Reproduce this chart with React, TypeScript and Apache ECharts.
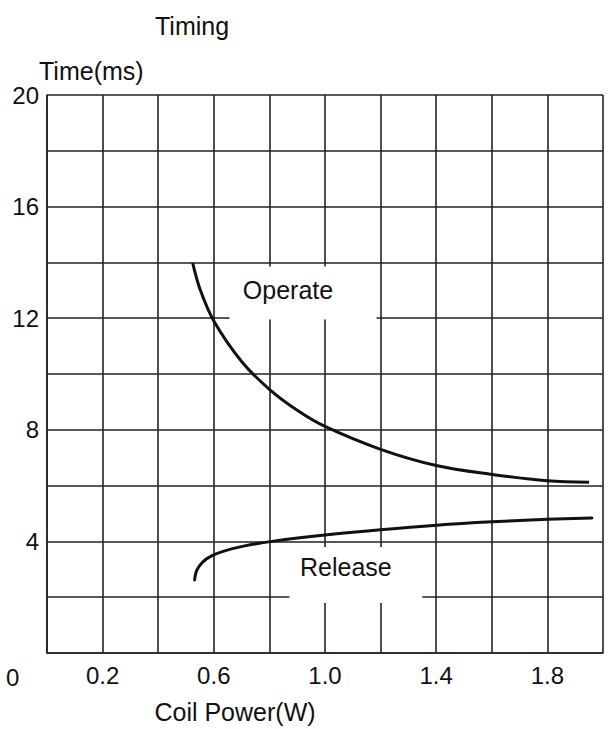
import React, { useEffect, useRef } from "react";
import * as echarts from "echarts";

const FONT = "'Liberation Sans', Arial, Helvetica, sans-serif";

const xTickLabels = ["0.2", "0.6", "1.0", "1.4", "1.8"];
const yTickLabels = ["4", "8", "12", "16", "20"];

const operateX = [0.524, 0.55, 0.6, 0.7, 0.8, 0.9, 1.0, 1.2, 1.4, 1.6, 1.8, 1.95];
const operateY = [13.98, 13.05, 11.9, 10.45, 9.45, 8.7, 8.12, 7.3, 6.72, 6.4, 6.17, 6.12];

const releaseX = [0.531, 0.539, 0.56, 0.592, 0.639, 0.711, 0.815, 1.0, 1.2, 1.4, 1.6, 1.8, 1.96];
const releaseY = [2.62, 2.97, 3.26, 3.48, 3.66, 3.84, 4.01, 4.23, 4.42, 4.58, 4.7, 4.79, 4.84];

const curveNames = ["Operate", "Release"];
const labelPos = [
  [0.921, 12.9],
  [1.111, 2.8],
];

export default function App() {
  const ref = useRef<HTMLDivElement>(null);
  useEffect(() => {
    if (!ref.current) return;
    const chart = echarts.init(ref.current, undefined, { renderer: "svg" });
    const gridLine = { show: true, lineStyle: { color: "#222", width: 1.6 } };
    chart.setOption({
      animation: false,
      backgroundColor: "#fff",
      textStyle: { fontFamily: FONT },
      title: {
        text: "Timing",
        left: 150,
        top: 8,
        textStyle: { fontFamily: FONT, fontSize: 25, fontWeight: "normal", color: "#111" },
      },
      grid: { left: 47, right: 5, top: 95, bottom: 76, containLabel: false },
      xAxis: {
        type: "value",
        min: 0,
        max: 2.0,
        interval: 0.2,
        name: "Coil Power(W)",
        nameLocation: "middle",
        nameGap: 46,
        nameTextStyle: { fontFamily: FONT, fontSize: 25, color: "#111", padding: [0, 180, 0, 0] },
        axisLine: { show: true, lineStyle: { color: "#222", width: 1.6 } },
        axisTick: { show: false },
        splitLine: gridLine,
        axisLabel: {
          fontFamily: FONT,
          fontSize: 24,
          color: "#111",
          margin: 10,
          formatter: (v: number) => {
            const s = v.toFixed(1);
            return xTickLabels.includes(s) ? s : "";
          },
        },
      },
      yAxis: {
        type: "value",
        min: 0,
        max: 20,
        interval: 2,
        name: "Time(ms)",
        nameLocation: "end",
        nameGap: 10,
        nameTextStyle: { fontFamily: FONT, fontSize: 25, color: "#111", align: "left", padding: [0, 0, 0, -8] },
        axisLine: { show: true, lineStyle: { color: "#222", width: 1.6 } },
        axisTick: { show: false },
        splitLine: gridLine,
        axisLabel: {
          fontFamily: FONT,
          fontSize: 24,
          color: "#111",
          margin: 8,
          formatter: (v: number) => {
            const s = String(Math.round(v));
            return yTickLabels.includes(s) ? s : "";
          },
        },
      },
      graphic: [
        {
          type: "text",
          left: 6,
          top: 665,
          style: { text: "0", fontFamily: FONT, fontSize: 24, fill: "#111" },
        },
      ],
      series: [
        {
          type: "scatter",
          silent: true,
          z: 2,
          symbol: "rect",
          data: [
            { value: labelPos[0], symbolSize: [147, 53], label: { formatter: curveNames[0], offset: [-15, -3] } },
            { value: labelPos[1], symbolSize: [133, 56], label: { formatter: curveNames[1], offset: [-10, -8] } },
          ],
          itemStyle: { color: "#fff", opacity: 1 },
          label: { show: true, position: "inside", fontFamily: FONT, fontSize: 25, color: "#111" },
        },
        {
          type: "line",
          name: curveNames[0],
          z: 3,
          smooth: 0.35,
          showSymbol: false,
          silent: true,
          lineStyle: { color: "#111", width: 3 },
          data: operateX.map((x, i) => [x, operateY[i]]),
        },
        {
          type: "line",
          name: curveNames[1],
          z: 3,
          smooth: 0.35,
          showSymbol: false,
          silent: true,
          lineStyle: { color: "#111", width: 3, cap: "round" },
          data: releaseX.map((x, i) => [x, releaseY[i]]),
        },
      ],
    });
    return () => chart.dispose();
  }, []);
  return <div ref={ref} style={{ position: "absolute", left: 0, top: 0, width: 608, height: 729 }} />;
}
